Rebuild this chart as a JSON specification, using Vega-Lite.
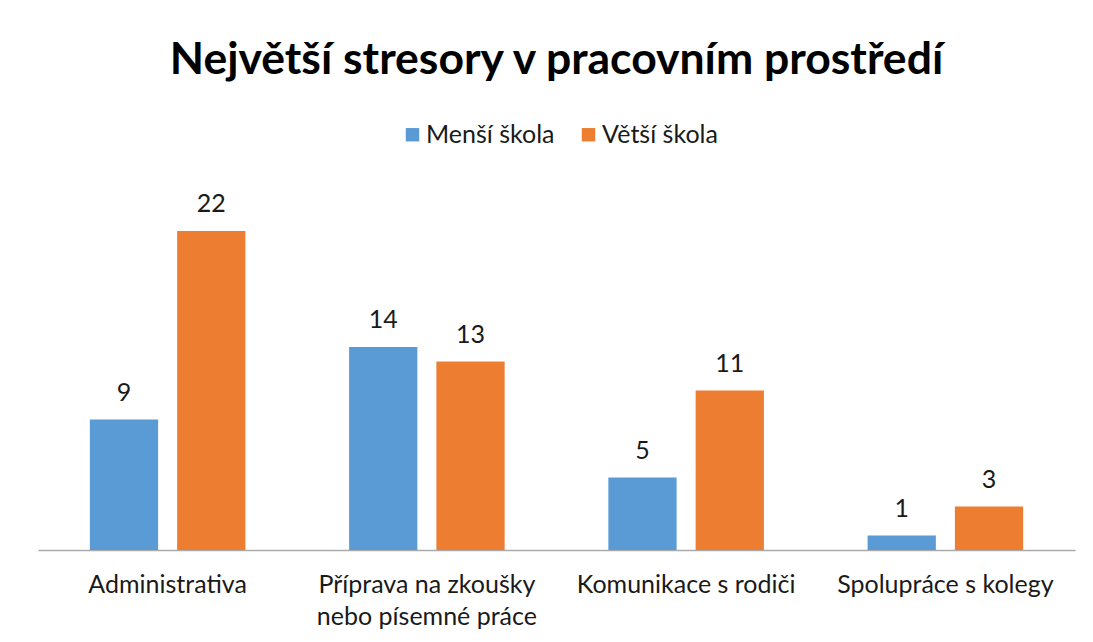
{
  "$schema": "https://vega.github.io/schema/vega-lite/v6.json",
  "width": 1037,
  "height": 348,
  "autosize": {"type": "none"},
  "padding": {"left": 38, "top": 202, "right": 18, "bottom": 92},
  "title": {
    "text": "Největší stresory v pracovním prostředí",
    "font": "Lato",
    "fontSize": 44.5,
    "fontWeight": "bold",
    "color": "#000000",
    "anchor": "middle",
    "offset": 39
  },
  "data": {
    "values": [
      {"kategorie": "Administrativa", "skola": "Menší škola", "pocet": 9},
      {"kategorie": "Administrativa", "skola": "Větší škola", "pocet": 22},
      {"kategorie": "Příprava na zkoušky nebo písemné práce", "skola": "Menší škola", "pocet": 14},
      {"kategorie": "Příprava na zkoušky nebo písemné práce", "skola": "Větší škola", "pocet": 13},
      {"kategorie": "Komunikace s rodiči", "skola": "Menší škola", "pocet": 5},
      {"kategorie": "Komunikace s rodiči", "skola": "Větší škola", "pocet": 11},
      {"kategorie": "Spolupráce s kolegy", "skola": "Menší škola", "pocet": 1},
      {"kategorie": "Spolupráce s kolegy", "skola": "Větší škola", "pocet": 3}
    ]
  },
  "encoding": {
    "x": {
      "field": "kategorie",
      "type": "nominal",
      "sort": null,
      "scale": {"paddingInner": 0.4, "paddingOuter": 0.2},
      "axis": {
        "title": null,
        "labelAngle": 0,
        "ticks": false,
        "domainColor": "#AAAAAA",
        "domainWidth": 1.5,
        "labelFont": "Lato",
        "labelFontSize": 25,
        "labelColor": "#1a1a1a",
        "labelPadding": 22,
        "labelLineHeight": 32,
        "labelLimit": 400,
        "labelExpr": "datum.value == 'Příprava na zkoušky nebo písemné práce' ? ['Příprava na zkoušky', 'nebo písemné práce'] : datum.value"
      }
    },
    "xOffset": {
      "field": "skola",
      "type": "nominal",
      "scale": {"paddingInner": 0.218, "paddingOuter": 0}
    },
    "y": {
      "field": "pocet",
      "type": "quantitative",
      "scale": {"domain": [0, 24]},
      "axis": null
    }
  },
  "layer": [
    {
      "mark": {"type": "bar"},
      "encoding": {
        "color": {
          "field": "skola",
          "type": "nominal",
          "scale": {"domain": ["Menší škola", "Větší škola"], "range": ["#5B9BD5", "#ED7D31"]},
          "legend": {
            "title": null,
            "orient": "none",
            "legendX": 362,
            "legendY": -80,
            "direction": "horizontal",
            "symbolType": "square",
            "symbolSize": 180,
            "symbolStrokeWidth": 0,
            "labelFont": "Lato",
            "labelFontSize": 25,
            "labelColor": "#1a1a1a",
            "labelOffset": 1,
            "columnPadding": 21
          }
        }
      }
    },
    {
      "mark": {"type": "text", "baseline": "alphabetic", "dy": -19, "font": "Lato", "fontSize": 25, "color": "#1a1a1a"},
      "encoding": {
        "text": {"field": "pocet", "type": "quantitative"}
      }
    }
  ],
  "config": {
    "view": {"stroke": null},
    "axis": {"grid": false}
  }
}
